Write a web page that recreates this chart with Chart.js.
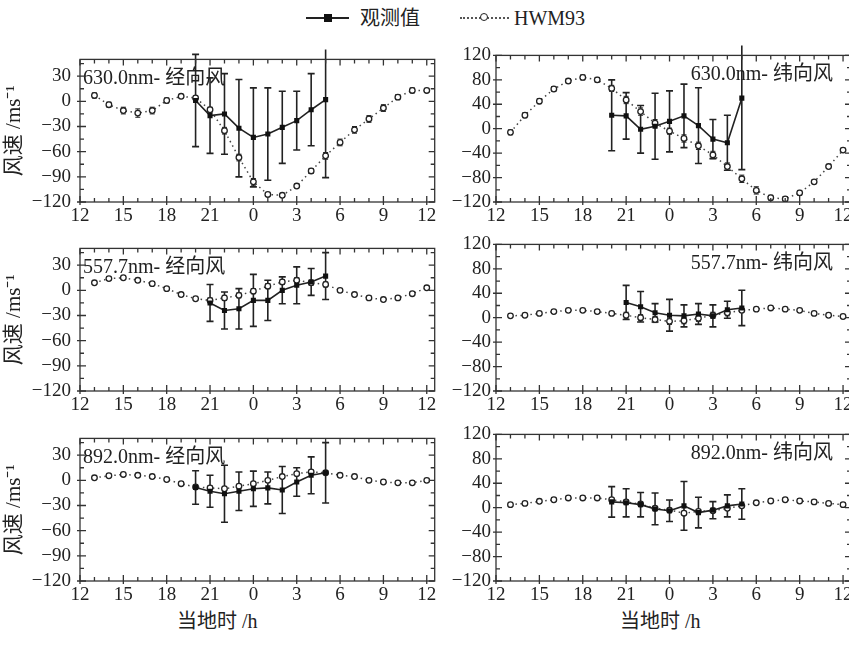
<!DOCTYPE html>
<html>
<head>
<meta charset="utf-8">
<script src="https://cdn.jsdelivr.net/npm/chart.js@4.4.0/dist/chart.umd.min.js"></script>
<style>
body{margin:0;width:849px;height:648px;overflow:hidden;background:#fff;position:relative;
  font-family:"Liberation Serif","Noto Sans CJK SC",serif;color:#222}
.box{position:absolute;height:189px}
.col0{left:0;width:440px}
.col1{left:440px;width:420px}
.txt{position:absolute;font-size:20px;line-height:20px;white-space:nowrap}
</style>
</head>
<body>
<div class="txt" style="left:306px;top:17px;width:43px;height:2px;background:#222"></div>
<div class="txt" style="left:324px;top:14px;width:8px;height:8px;background:#111"></div>
<div class="txt" style="left:360px;top:8px">观测值</div>
<div class="txt" style="left:460px;top:17px;width:49px;height:0;border-top:2px dotted #555"></div>
<div class="txt" style="left:480px;top:13px;width:6px;height:6px;border:1.6px solid #222;border-radius:50%;background:#fff"></div>
<div class="txt" style="left:514px;top:8px">HWM93</div>

<div class="box col0" style="top:39px"><canvas id="c0"></canvas></div>
<div class="box col1" style="top:39px"><canvas id="c1"></canvas></div>
<div class="box col0" style="top:228px"><canvas id="c2"></canvas></div>
<div class="box col1" style="top:228px"><canvas id="c3"></canvas></div>
<div class="box col0" style="top:418px"><canvas id="c4"></canvas></div>
<div class="box col1" style="top:418px"><canvas id="c5"></canvas></div>

<div class="txt" style="left:177px;top:611px">当地时 /h</div>
<div class="txt" style="left:620px;top:611px">当地时 /h</div>

<script>
// local time axis runs 12 -> 36 (i.e. 12h through midnight to 12h next day)
const hwmHours = [13,14,15,16,17,18,19,20,21,22,23,24,25,26,27,28,29,30,31,32,33,34,35,36]
const obsHours20 = [20,21,22,23,24,25,26,27,28,29]
const obsHours21 = [21,22,23,24,25,26,27,28,29]

// 630.0nm meridional
const hwm630m = [7,-4,-11,-14,-11,1,6,4,-10,-35,-67,-96,-111,-112,-101,-83,-65,-49,-34,-21,-8,5,13,13]
const hwm630mErr = [3,3,4,5,4,3,2,2,3,4,4,4,2,2,2,3,4,4,4,4,4,3,3,2]
const obs630m = [1,-17,-15,-32,-43,-39,-31,-23,-10,2]
const obs630mErr = [55,45,48,58,59,55,43,35,43,93]
// 630.0nm zonal
const hwm630z = [-6,22,45,65,78,84,80,66,47,28,9,-4,-16,-28,-43,-62,-82,-101,-113,-115,-105,-87,-62,-35]
const hwm630zErr = [4,4,4,4,4,4,4,5,6,6,6,5,6,6,6,6,6,6,4,4,4,3,3,3]
const obs630z = [22,21,-1,4,12,21,5,-17,-23,50]
const obs630zErr = [58,38,39,54,50,52,62,32,45,117]
// 557.7nm meridional
const hwm557m = [9,14,15,12,8,2,-5,-10,-12,-9,-6,-1,5,10,12,9,7,0,-5,-9,-11,-9,-4,3]
const hwm557mErr = [2,2,2,2,2,2,2,2,3,3,3,3,3,3,3,3,3,2,2,2,2,2,2,2]
const obs557m = [-15,-24,-22,-12,-12,0,6,10,17]
const obs557mErr = [22,22,24,31,24,16,22,16,28]
// 557.7nm zonal
const hwm557z = [3,4,7,10,12,12,10,7,4,0,-3,-6,-5,-1,4,8,12,14,16,14,12,7,4,2]
const hwm557zErr = [2,2,2,2,2,2,2,2,5,5,5,5,5,5,5,5,3,2,2,2,2,2,2,2]
const obs557z = [25,18,8,4,3,6,3,13,16]
const obs557zErr = [28,25,15,26,18,17,18,14,29]
// 892.0nm meridional
const hwm892m = [3,5.5,7,6,4.5,1,-4,-8,-9,-10,-7,-4,0,4.5,8,10,9,6,4.5,0,-2,-3,-3,0]
const hwm892mErr = [2,2,2,2,2,2,2,2,2,2,2,2,2,2,2,2,2,2,2,2,2,2,2,2]
const obs892m = [-8.5,-13,-16,-13,-10,-9,-11.5,-2,6,9]
const obs892mErr = [20,19,34,23,21,19,28,17,22,36]
// 892.0nm zonal
const hwm892z = [5,7,10.5,13,16,16,16,13,9.5,6,-1,-4,-9,-6,-5,-1,3,8,11,13,11,9.5,7,5]
const hwm892zErr = [3,3,3,3,3,3,3,3,3,3,3,3,3,3,3,3,3,3,3,3,3,3,3,3]
const obs892z = [9.5,8,5,-2,-5,3,-8,-4,3,6]
const obs892zErr = [25,23,20,26,17.5,40,25,14,18,25]

const yLeftTicks = [-120,50,30,15]   // min, max, major step, minor step
const yRightTicks = [-120,120,40,20]

const INK = '#222'
const serif = '"Liberation Serif","Noto Sans CJK SC",serif'

function pts(xs, ys){ return xs.map((x, i) => ({x: x, y: ys[i]})) }

// error bars, panel title, frame with inward ticks
const panelPlugin = {
  id: 'panel',
  beforeDatasetsDraw(chart, args, o){
    const c = chart.ctx, a = chart.chartArea
    c.save()
    c.fillStyle = INK
    c.font = '20px ' + serif
    c.textBaseline = 'middle'
    if (o.align === 'right') { c.textAlign = 'right'; c.fillText(o.title, a.right - 18, a.top + 19) }
    else { c.textAlign = 'left'; c.fillText(o.title, a.left + 3, a.top + 19) }
    c.restore()

    c.save()
    c.beginPath()
    c.rect(a.left - 5, a.top - 10, a.right - a.left + 10, a.bottom - a.top + 10)
    c.clip()
    chart.data.datasets.forEach(ds => {
      if (!ds.errors) return
      c.strokeStyle = INK
      c.lineWidth = ds.errWidth
      ds.data.forEach((p, i) => {
        const px = chart.scales.x.getPixelForValue(p.x)
        const y1 = chart.scales.y.getPixelForValue(p.y + ds.errors[i])
        const y2 = chart.scales.y.getPixelForValue(p.y - ds.errors[i])
        c.beginPath()
        c.moveTo(px, y1); c.lineTo(px, y2)
        c.moveTo(px - ds.cap, y1); c.lineTo(px + ds.cap, y1)
        c.moveTo(px - ds.cap, y2); c.lineTo(px + ds.cap, y2)
        c.stroke()
      })
    })
    c.restore()
  },
  afterDraw(chart, args, o){
    const c = chart.ctx, a = chart.chartArea
    const xs = chart.scales.x, ys = chart.scales.y
    c.save()
    c.strokeStyle = '#333'
    c.lineWidth = 1.3
    c.strokeRect(a.left, a.top, a.right - a.left, a.bottom - a.top)
    c.beginPath()
    for (let h = 12; h <= 36; h++) {
      const px = xs.getPixelForValue(h)
      const major = h % 3 === 0
      const len = major ? 6 : 4
      c.moveTo(px, a.bottom + (major ? 3 : 0)); c.lineTo(px, a.bottom - len)
      c.moveTo(px, a.top); c.lineTo(px, a.top + len)
    }
    const t = o.yt
    for (let v = t[0]; v <= t[1]; v += t[3]) {
      const py = ys.getPixelForValue(v)
      const major = v % t[2] === 0
      const len = major ? 6 : 4
      c.moveTo(a.left - (major ? 3 : 0), py); c.lineTo(a.left + len, py)
      c.moveTo(a.right, py); c.lineTo(a.right - len, py)
    }
    c.stroke()
    c.restore()
  }
}

function makePanel(id, left, title, hwm, hwmErr, obsX, obs, obsErr){
  const yt = left ? yLeftTicks : yRightTicks
  return new Chart(document.getElementById(id), {
    type: 'line',
    data: {
      datasets: [
        {
          data: pts(obsX, obs), errors: obsErr, errWidth: 1.6, cap: 3.5,
          borderColor: INK, borderWidth: 1.6, pointStyle: 'rect', pointRadius: 3.6,
          pointBackgroundColor: '#111', pointBorderColor: '#111', pointBorderWidth: 0
        },
        {
          data: pts(hwmHours, hwm), errors: hwmErr, errWidth: 1, cap: 2.5,
          borderColor: '#444', borderWidth: 1.5, borderDash: [1.5, 3.5],
          pointStyle: 'circle', pointRadius: 2.8,
          pointBackgroundColor: '#fff', pointBorderColor: INK, pointBorderWidth: 1.3
        }
      ]
    },
    options: {
      responsive: true,
      maintainAspectRatio: false,
      animation: false,
      layout: {padding: {top: 10, left: 0, right: left ? 5 : 9, bottom: 0}},
      plugins: {
        legend: {display: false},
        tooltip: {enabled: false},
        panel: {title: title, align: left ? 'left' : 'right', yt: yt}
      },
      scales: {
        x: {
          type: 'linear', min: 12, max: 36.55,
          grid: {display: false, drawTicks: false}, border: {display: false},
          ticks: {
            stepSize: 3, includeBounds: false, autoSkip: false, maxRotation: 0, padding: 3,
            color: INK, font: {family: serif, size: 19},
            callback: v => String(v % 24)
          },
          afterFit: s => { s.height = 26 }
        },
        y: {
          min: yt[0], max: yt[1],
          grid: {display: false, drawTicks: false}, border: {display: false},
          title: {display: left, text: '风速 /ms⁻¹', color: INK, font: {family: serif, size: 21}, padding: 2},
          ticks: {
            stepSize: yt[2], includeBounds: false, autoSkip: false, padding: left ? 9 : 5,
            color: INK, font: {family: serif, size: 19},
            callback: v => String(v).replace('-', '−')
          },
          afterFit: s => { s.width = left ? 80 : 56 }
        }
      }
    },
    plugins: [panelPlugin]
  })
}

makePanel('c0', true, '630.0nm- 经向风', hwm630m, hwm630mErr, obsHours20, obs630m, obs630mErr)
makePanel('c1', false, '630.0nm- 纬向风', hwm630z, hwm630zErr, obsHours20, obs630z, obs630zErr)
makePanel('c2', true, '557.7nm- 经向风', hwm557m, hwm557mErr, obsHours21, obs557m, obs557mErr)
makePanel('c3', false, '557.7nm- 纬向风', hwm557z, hwm557zErr, obsHours21, obs557z, obs557zErr)
makePanel('c4', true, '892.0nm- 经向风', hwm892m, hwm892mErr, obsHours20, obs892m, obs892mErr)
makePanel('c5', false, '892.0nm- 纬向风', hwm892z, hwm892zErr, obsHours20, obs892z, obs892zErr)
</script>
</body>
</html>
